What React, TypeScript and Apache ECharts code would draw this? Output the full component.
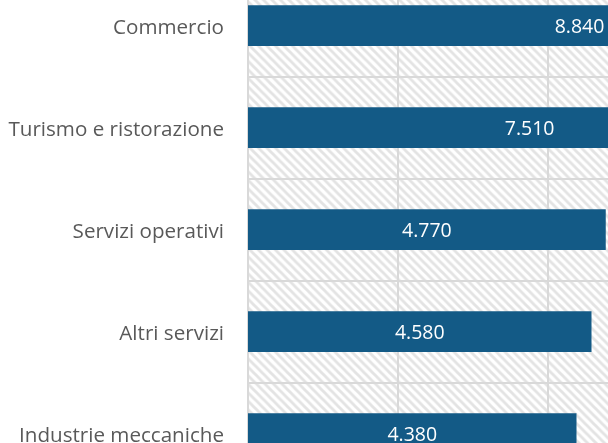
import React, { useEffect, useRef } from "react";
import * as echarts from "echarts";

const categories = [
  "Commercio",
  "Turismo e ristorazione",
  "Servizi operativi",
  "Altri servizi",
  "Industrie meccaniche",
];
const values = [8840, 7510, 4770, 4580, 4380];
const xTicks = { min: 0, max: 10000, interval: 2000 };

function fmt(v: number): string {
  const th = Math.floor(v / 1000);
  const rest = v % 1000;
  return th > 0 ? th + "." + String(rest).padStart(3, "0") : String(rest);
}

const hatchSvg =
  '<svg xmlns="http://www.w3.org/2000/svg" width="8.5" height="8.5">' +
  '<rect width="8.5" height="8.5" fill="#ffffff"/>' +
  '<path d="M-2,-2 L10.5,10.5 M-2,6.5 L2,10.5 M6.5,-2 L10.5,2" stroke="#e3e3e3" stroke-width="2.8"/>' +
  "</svg>";
const hatchUrl = "data:image/svg+xml;utf8," + encodeURIComponent(hatchSvg);

export default function App() {
  const ref = useRef<HTMLDivElement>(null);
  useEffect(() => {
    if (!ref.current) return;
    const chart = echarts.init(ref.current, null, { renderer: "svg" });
    chart.setOption({
      animation: false,
      grid: {
        left: 248,
        top: -25.3,
        width: 750,
        height: 510,
        outerBoundsMode: "none",
        containLabel: false,
        show: true,
        borderWidth: 0,
        backgroundColor: {
          image: hatchUrl,
          repeat: "repeat",
          imageWidth: 8.5,
          imageHeight: 8.5,
        } as any,
      },
      xAxis: {
        type: "value",
        min: xTicks.min,
        max: xTicks.max,
        interval: xTicks.interval,
        axisLabel: { show: false },
        axisLine: { show: false },
        axisTick: { show: false },
        splitLine: { show: true, lineStyle: { color: "#d9d9d9", width: 2 } },
      },
      yAxis: {
        type: "category",
        data: categories,
        inverse: true,
        axisLine: { show: true, lineStyle: { color: "#d9d9d9", width: 2 } },
        axisTick: { show: false },
        splitLine: { show: true, lineStyle: { color: "#d9d9d9", width: 2 } },
        axisLabel: {
          margin: 24,
          color: "#595959",
          fontFamily: "Open Sans",
          fontSize: 20.6,
          padding: [0, 0, 4, 0],
        },
      },
      series: [
        {
          type: "bar",
          data: values,
          barWidth: "40%",
          itemStyle: { color: "#135a86" },
          label: {
            show: true,
            position: "inside",
            color: "#ffffff",
            fontFamily: "Open Sans",
            fontSize: 19.5,
            formatter: (p: any) => fmt(p.value),
          },
        },
      ],
    });
    return () => chart.dispose();
  }, []);
  return (
    <div
      ref={ref}
      style={{ position: "fixed", left: 0, top: 0, width: 608, height: 443 }}
    />
  );
}
